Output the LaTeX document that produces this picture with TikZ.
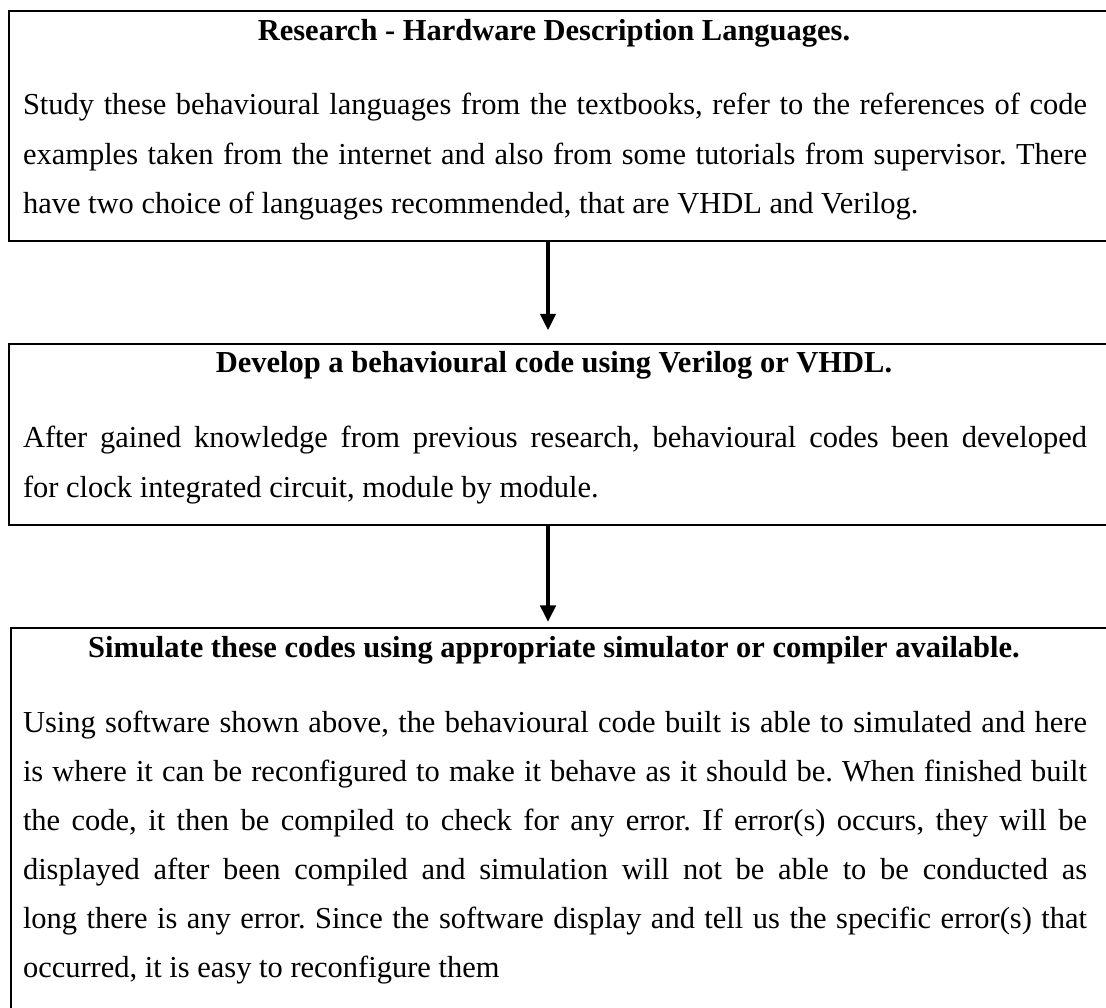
\documentclass[tikz,border=0pt]{standalone}
\usepackage{fontspec}
\setmainfont{Liberation Serif}
\usetikzlibrary{arrows.meta}
\frenchspacing

\tikzset{every picture/.style={line width=0.8pt}}
\tikzset{
  stepbox/.style={draw, rectangle, inner sep=0pt, anchor=north west},
  steptitle/.style={anchor=base, inner sep=0pt, font=\fontsize{12}{14}\selectfont\bfseries},
  steptext/.style={anchor=base west, inner sep=0pt, text width=418.9pt, align=justify,
    font=\fontsize{12}{19.3}\selectfont},
  flowarrow/.style={line width=1.5pt, -{Triangle[length=6.5pt,width=6pt]}}
}

\begin{document}
\begin{tikzpicture}[x=0.3937pt,y=0.3937pt,yscale=-1]
%page frame, boxes run off the right edge
\path[use as bounding box, clip] (0,0) rectangle (1106,1008);

%Box: research
\node[stepbox, minimum width=437.8pt, minimum height=90.6pt] (research) at (8,10) {};
\node[steptitle] (researchtitle) at (554,41) {Research - Hardware Description Languages.};
\node[steptext] (researchtext) at (22,115) {Study these behavioural languages from the textbooks, refer to the references of code\linebreak
examples taken from the internet and also from some tutorials from supervisor. There\linebreak
have two choice of languages recommended, that are VHDL and Verilog.};

%Box: develop
\node[stepbox, minimum width=437.8pt, minimum height=71.3pt] (develop) at (8,343) {};
\node[steptitle] (developtitle) at (554,373) {Develop a behavioural code using Verilog or VHDL.};
\node[steptext] (developtext) at (22,448) {After gained knowledge from previous research, behavioural codes been developed\linebreak
for clock integrated circuit, module by module.};

%Box: simulate
\node[stepbox, minimum width=437.8pt, minimum height=160pt] (simulate) at (10,627) {};
\node[steptitle] (simulatetitle) at (554,657) {Simulate these codes using appropriate simulator or compiler available.};
\node[steptext] (simulatetext) at (22,732) {Using software shown above, the behavioural code built is able to simulated and here\linebreak
is where it can be reconfigured to make it behave as it should be. When finished built\linebreak
the code, it then be compiled to check for any error. If error(s) occurs, they will be\linebreak
displayed after been compiled and simulation will not be able to be conducted as\linebreak
long there is any error. Since the software display and tell us the specific error(s) that\linebreak
occurred, it is easy to reconfigure them};

%Arrows
\coordinate (arrowx) at (548,0);
\draw[flowarrow, shorten >=5pt] (research.south -| arrowx) -- (develop.north -| arrowx);
\draw[flowarrow, shorten >=2pt] (develop.south -| arrowx) -- (simulate.north -| arrowx);

\end{tikzpicture}
\end{document}
